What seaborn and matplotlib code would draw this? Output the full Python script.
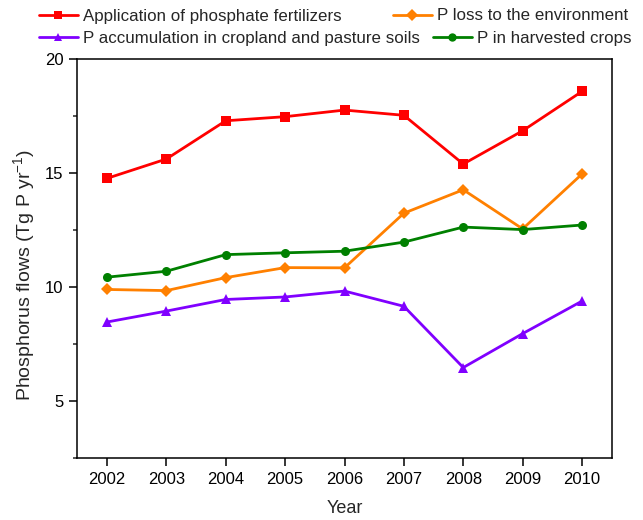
import matplotlib

matplotlib.use("Agg")
import matplotlib.pyplot as plt
import matplotlib.lines as mlines
from matplotlib.ticker import MultipleLocator
import pandas as pd
import seaborn as sns

# --- data ---
years = [2002, 2003, 2004, 2005, 2006, 2007, 2008, 2009, 2010]
fertilizer = [14.77, 15.62, 17.30, 17.48, 17.77, 17.54, 15.40, 16.86, 18.59]
p_loss = [9.89, 9.84, 10.41, 10.85, 10.84, 13.24, 14.27, 12.55, 14.96]
accumulation = [8.46, 8.94, 9.45, 9.56, 9.82, 9.15, 6.46, 7.95, 9.38]
harvested = [10.43, 10.69, 11.42, 11.50, 11.57, 11.97, 12.63, 12.52, 12.72]

series_names = [
    "Application of phosphate fertilizers",
    "P loss to the environment",
    "P accumulation in cropland and pasture soils",
    "P in harvested crops",
]
series_values = [fertilizer, p_loss, accumulation, harvested]

colors = {
    series_names[0]: "#FF0000",
    series_names[1]: "#FF8000",
    series_names[2]: "#8000FF",
    series_names[3]: "#008000",
}
markers = {
    series_names[0]: "s",
    series_names[1]: "D",
    series_names[2]: "^",
    series_names[3]: "o",
}

rows = []
for name, vals in zip(series_names, series_values):
    for yr, v in zip(years, vals):
        rows.append({"Year": yr, "Flow": v, "Series": name})
df = pd.DataFrame(rows)

sns.set_style("ticks")
plt.rcParams["font.family"] = ["Liberation Sans", "DejaVu Sans"]
plt.rcParams["mathtext.fontset"] = "custom"
plt.rcParams["mathtext.rm"] = "Liberation Sans"
plt.rcParams["mathtext.it"] = "Liberation Sans:italic"

FONT = 12
LW = 2.0

fig = plt.figure(figsize=(6.43, 5.20), dpi=100)
ax = fig.add_axes([77.3 / 643, 1 - 457.7 / 520, (611.7 - 77.3) / 643, (457.7 - 59.3) / 520])

sns.lineplot(
    data=df,
    x="Year",
    y="Flow",
    hue="Series",
    style="Series",
    palette=colors,
    markers=markers,
    dashes=False,
    linewidth=LW,
    markersize=6.5,
    markeredgewidth=0,
    legend=False,
    ax=ax,
)

ax.set_xlim(2001.5, 2010.5)
ax.set_ylim(2.5, 20)
ax.set_xticks(years)
ax.set_xticklabels([str(y) for y in years])
ax.yaxis.set_major_locator(MultipleLocator(5))
ax.yaxis.set_minor_locator(MultipleLocator(2.5))
ax.set_yticks([5, 10, 15, 20])

for sp in ax.spines.values():
    sp.set_visible(True)
    sp.set_linewidth(1.1)
    sp.set_color("black")

ax.tick_params(axis="both", which="major", direction="out", length=6, width=1.1,
               labelsize=FONT, colors="black", pad=4)
ax.tick_params(axis="y", which="minor", direction="out", length=3, width=1.1)
ax.tick_params(axis="x", which="minor", length=0)

ax.set_xlabel("Year", fontsize=13, labelpad=10)
ax.set_ylabel("Phosphorus flows (Tg P yr$^{-1}$)", fontsize=14)
ax.yaxis.set_label_coords(-0.075, 0.46)

# --- legend: four single-entry legends placed like the original ---
legend_pos = [(39, 16), (393, 16), (39, 38), (433, 38)]
for name, (px, py) in zip(series_names, legend_pos):
    h = mlines.Line2D([], [], color=colors[name], marker=markers[name],
                      linewidth=LW, markersize=6, markeredgewidth=0, label=name)
    fig.legend(
        handles=[h],
        loc="center left",
        bbox_to_anchor=(px / 643, 1 - py / 520),
        bbox_transform=fig.transFigure,
        frameon=False,
        fontsize=12.2,
        handlelength=2.3,
        handletextpad=0.3,
        borderpad=0,
        borderaxespad=0,
    )

fig.savefig("out.png", dpi=100)
